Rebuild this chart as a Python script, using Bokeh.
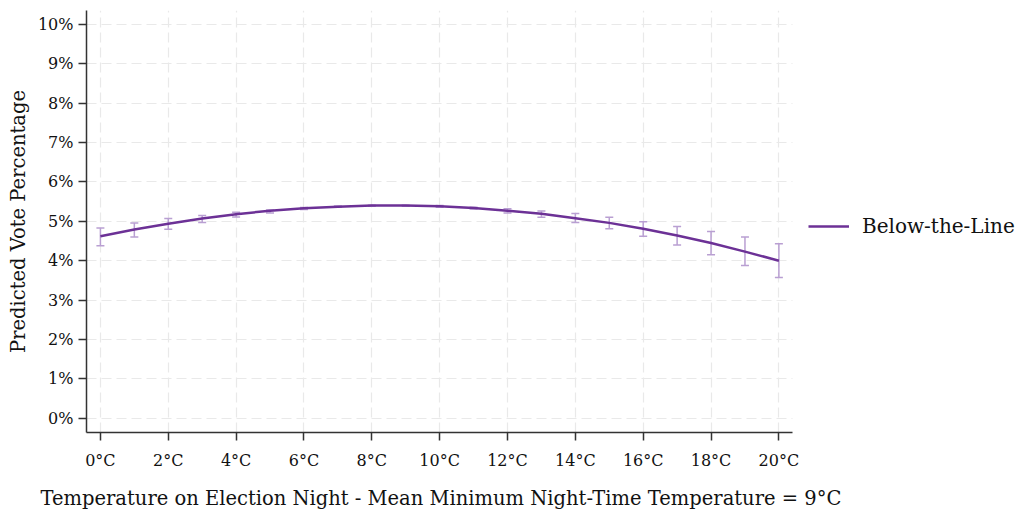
from bokeh.plotting import figure
from bokeh.models import (Range1d, FixedTicker, Whisker, TeeHead, ColumnDataSource,
                          Legend, LegendItem, BoxAnnotation, Title)
from bokeh.embed import file_html
from bokeh.resources import INLINE

# ---- data ----
temps = list(range(0, 21))
predicted = [4.62, 4.79, 4.94, 5.07, 5.18, 5.27, 5.33, 5.37, 5.40, 5.40, 5.38,
             5.34, 5.27, 5.19, 5.08, 4.96, 4.81, 4.64, 4.45, 4.23, 4.00]
upper = [4.83, 4.96, 5.07, 5.15, 5.23, 5.29, 5.35, 5.39, 5.41, 5.41, 5.40,
         5.36, 5.32, 5.26, 5.20, 5.10, 4.99, 4.87, 4.74, 4.60, 4.43]
lower = [4.38, 4.60, 4.80, 4.97, 5.11, 5.21, 5.30, 5.36, 5.38, 5.38, 5.36,
         5.31, 5.21, 5.10, 4.97, 4.81, 4.62, 4.40, 4.15, 3.88, 3.57]
x_ticks = [0, 2, 4, 6, 8, 10, 12, 14, 16, 18, 20]
x_tick_labels = ["0°C", "2°C", "4°C", "6°C", "8°C", "10°C", "12°C", "14°C", "16°C", "18°C", "20°C"]
y_ticks = [0, 1, 2, 3, 4, 5, 6, 7, 8, 9, 10]
y_tick_labels = ["0%", "1%", "2%", "3%", "4%", "5%", "6%", "7%", "8%", "9%", "10%"]
series_name = "Below-the-Line"
x_title = "Temperature on Election Night - Mean Minimum Night-Time Temperature = 9°C"
y_title = "Predicted Vote Percentage"

FONT = "DejaVu Serif"
LINE_COLOR = "#6c3196"
ERR_COLOR = "#b99fd2"
AXIS_COLOR = "#333333"

X_START, X_END = -0.41, 20.40      # visible extent of the x axis
X_VIEW_END = 27.24                 # frame continues under the legend area

src = ColumnDataSource(dict(x=temps, y=predicted, upper=upper, lower=lower))

p = figure(width=1024, height=522, output_backend="svg", toolbar_location=None,
           x_range=Range1d(X_START, X_VIEW_END), y_range=Range1d(-0.365, 10.355),
           min_border_left=86, min_border_right=0, min_border_top=10, min_border_bottom=90)
p.outline_line_color = None
p.background_fill_color = "white"
p.border_fill_color = "white"

# grid
for g in (p.xgrid, p.ygrid):
    g.grid_line_color = "#e9e9e9"
    g.grid_line_dash = "10 5"
    g.grid_line_width = 1.2

# hide grid to the right of the plotting area (legend area)
p.add_layout(BoxAnnotation(left=X_END, fill_color="white", fill_alpha=1.0,
                           line_color=None, level="underlay"))

whisker = Whisker(source=src, base="x", upper="upper", lower="lower",
                  line_color=ERR_COLOR, line_width=1.5,
                  upper_head=TeeHead(size=8, line_color=ERR_COLOR, line_width=1.5),
                  lower_head=TeeHead(size=8, line_color=ERR_COLOR, line_width=1.5))
p.add_layout(whisker)

r = p.line("x", "y", source=src, line_color=LINE_COLOR, line_width=2.5)

# axes
p.xaxis.ticker = FixedTicker(ticks=x_ticks)
p.yaxis.ticker = FixedTicker(ticks=y_ticks)
p.xaxis.bounds = (X_START, X_END)
p.xaxis.major_label_overrides = {t: l for t, l in zip(x_ticks, x_tick_labels)}
p.yaxis.major_label_overrides = {t: l for t, l in zip(y_ticks, y_tick_labels)}
for ax in (p.xaxis, p.yaxis):
    ax.axis_line_color = AXIS_COLOR
    ax.axis_line_width = 1.5
    ax.major_tick_line_color = AXIS_COLOR
    ax.major_tick_line_width = 1.5
    ax.major_tick_out = 8
    ax.major_tick_in = 0
    ax.minor_tick_line_color = None
    ax.major_label_text_font = FONT
    ax.major_label_text_font_size = "16px"
    ax.major_label_text_color = "#111111"
    ax.axis_label_text_font = FONT
    ax.axis_label_text_font_size = "19.5px"
    ax.axis_label_text_font_style = "normal"
    ax.axis_label_text_color = "#111111"
p.yaxis.axis_label = y_title
p.xaxis.major_label_standoff = 10
p.yaxis.major_label_standoff = 5
p.yaxis.axis_label_standoff = 5

# x-axis title, aligned with the plotting area (not the legend area)
p.add_layout(Title(text=x_title, align="left", offset=-46, standoff=24,
                   text_font=FONT, text_font_size="19.5px", text_font_style="normal",
                   text_color="#111111"), "below")

legend = Legend(items=[LegendItem(label=series_name, renderers=[r])],
                location=(722, 194), border_line_color=None,
                background_fill_alpha=0, label_text_font=FONT,
                label_text_font_size="20px", label_text_color="#111111",
                glyph_width=41, label_standoff=13,
                margin=0, padding=10)
p.add_layout(legend)

open("out.html", "w").write(file_html(p, INLINE))
